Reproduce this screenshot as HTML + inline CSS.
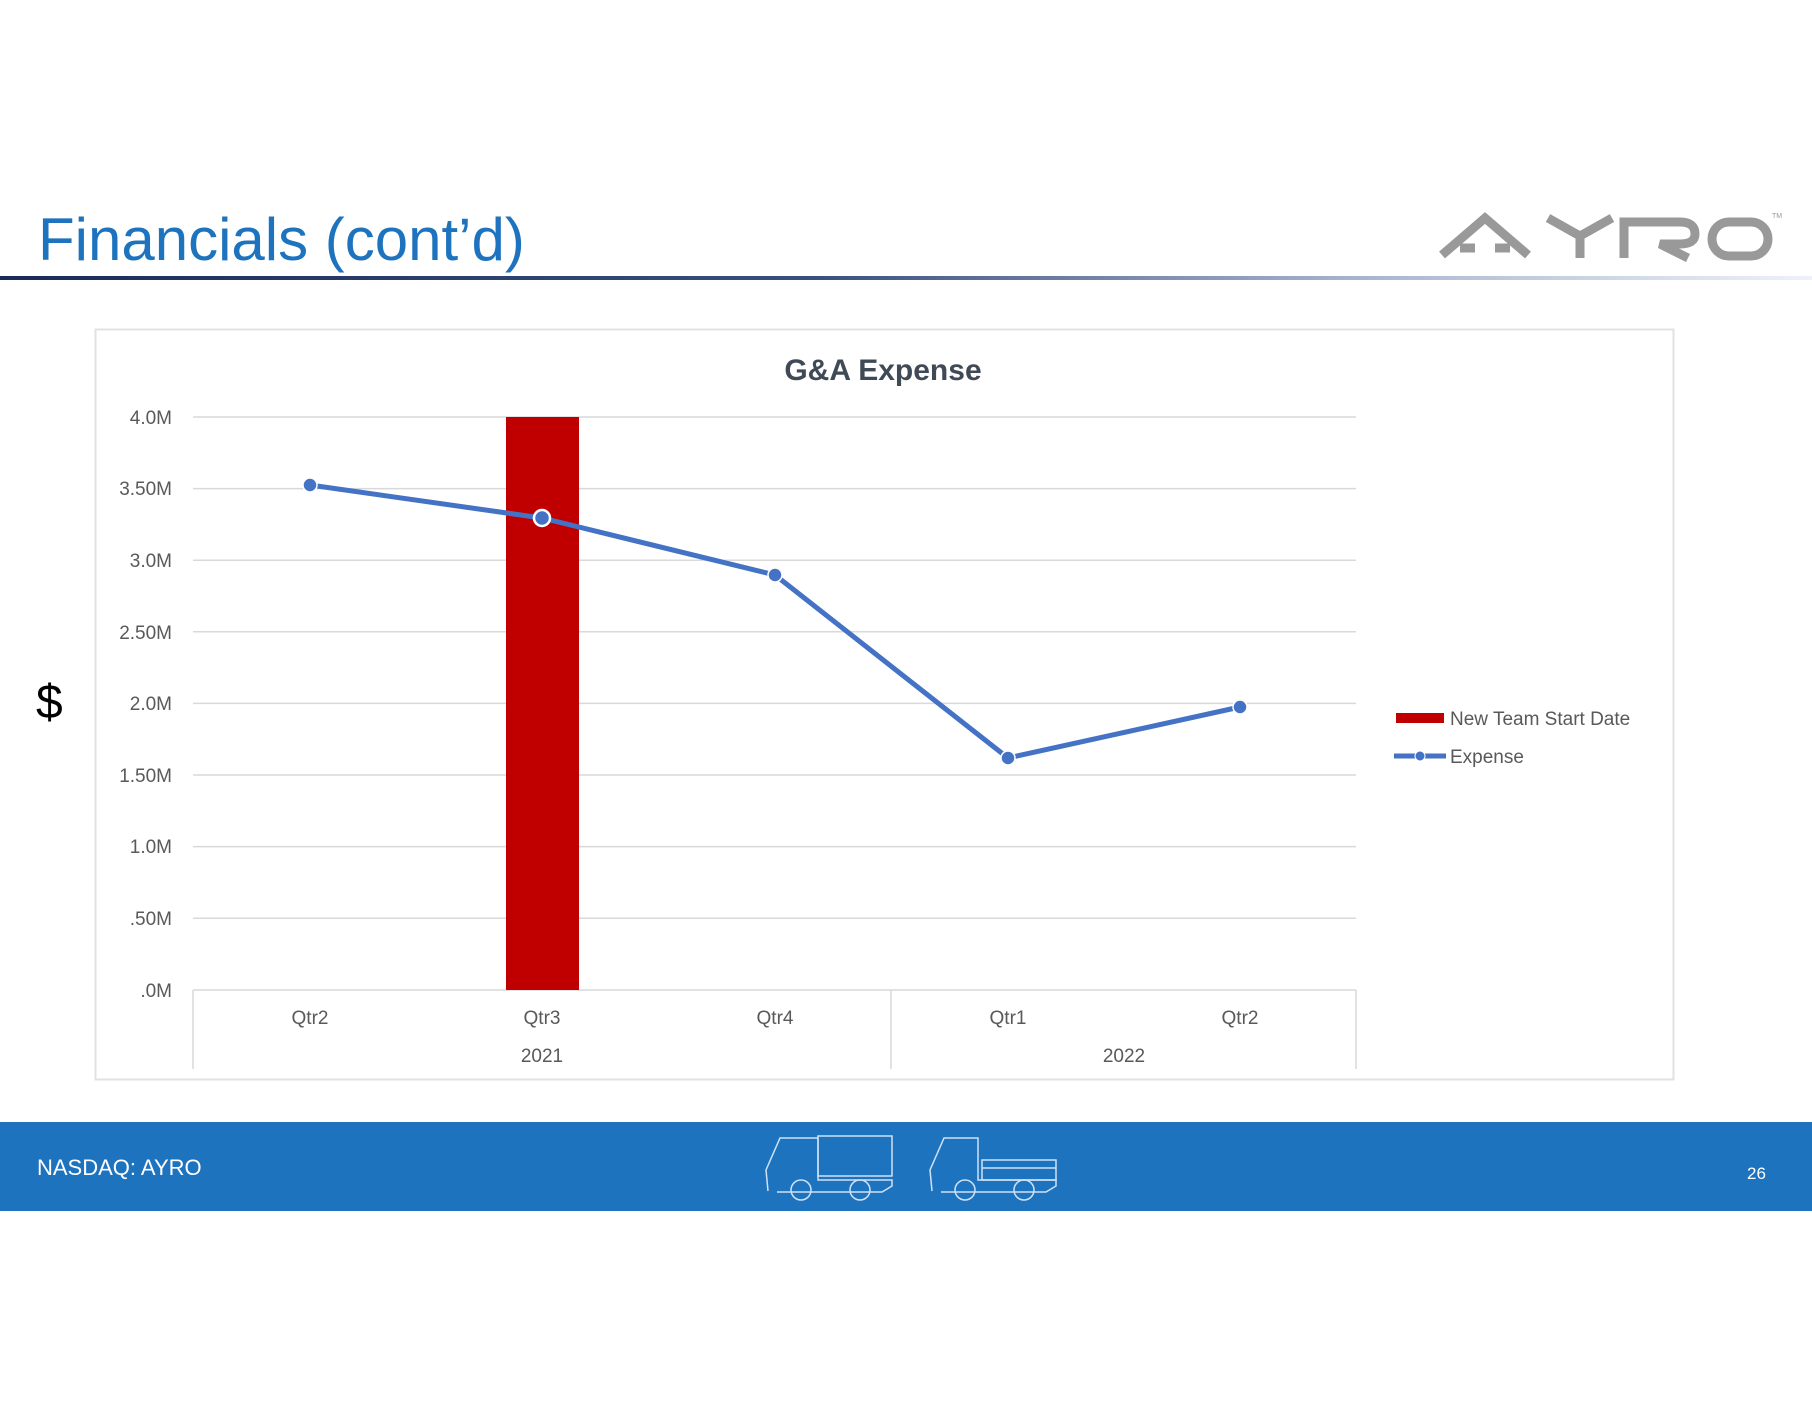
<!DOCTYPE html>
<html><head><meta charset="utf-8"><style>
html,body{margin:0;padding:0;background:#fff}
body{width:1812px;height:1401px;position:relative;overflow:hidden;font-family:"Liberation Sans",sans-serif}
</style></head><body>
<svg width="1812" height="1401" viewBox="0 0 1812 1401" style="position:absolute;left:0;top:0">
<defs>
<linearGradient id="g" x1="0" x2="1"><stop offset="0" stop-color="#1a2b57"/><stop offset="0.45" stop-color="#3a4f7e"/><stop offset="0.75" stop-color="#a8b4cf"/><stop offset="1" stop-color="#eef1f8"/></linearGradient>
</defs>
<text x="38" y="260" font-size="60" fill="#1e73be" font-family="Liberation Sans, sans-serif">Financials (cont’d)</text>
<rect x="0" y="276" width="1812" height="4" fill="url(#g)"/>
<!-- logo -->
<g fill="none" stroke="#999" stroke-width="9">
<path d="M1442 255 L1485 218 L1528 255 M1460 248 L1475 248 M1495 248 L1510 248"/>
<path d="M1548 218 L1580 236 L1612 218 M1580 236 L1580 258"/>
<path d="M1624 258 L1624 222 L1680 222 Q1695 222 1695 234 Q1695 244 1680 244 L1660 244 L1688 258"/>
<rect x="1712" y="222" width="56" height="34" rx="17"/>
</g>
<text x="1772" y="218" font-size="7" fill="#999">TM</text>
<!-- chart box -->
<rect x="95.5" y="329.5" width="1578" height="750" fill="#fff" stroke="#e2e2e2" stroke-width="2"/>
<text x="883" y="380" font-size="30" font-weight="bold" fill="#404a56" text-anchor="middle">G&amp;A Expense</text>
<g stroke="#d9d9d9" stroke-width="1.5">
<line x1="193" x2="1356" y1="417" y2="417"/><line x1="193" x2="1356" y1="488.6" y2="488.6"/>
<line x1="193" x2="1356" y1="560.2" y2="560.2"/><line x1="193" x2="1356" y1="631.8" y2="631.8"/>
<line x1="193" x2="1356" y1="703.4" y2="703.4"/><line x1="193" x2="1356" y1="775" y2="775"/>
<line x1="193" x2="1356" y1="846.6" y2="846.6"/><line x1="193" x2="1356" y1="918.2" y2="918.2"/>
<line x1="193" x2="1356" y1="990" y2="990"/>
<line x1="193" x2="193" y1="990" y2="1069"/><line x1="891" x2="891" y1="990" y2="1069"/><line x1="1356" x2="1356" y1="990" y2="1069"/>
</g>
<g font-size="19" fill="#595959" text-anchor="end">
<text x="172" y="424">4.0M</text><text x="172" y="495">3.50M</text><text x="172" y="567">3.0M</text>
<text x="172" y="639">2.50M</text><text x="172" y="710">2.0M</text><text x="172" y="782">1.50M</text>
<text x="172" y="853">1.0M</text><text x="172" y="925">.50M</text><text x="172" y="997">.0M</text>
</g>
<g font-size="19" fill="#595959" text-anchor="middle">
<text x="310" y="1024">Qtr2</text><text x="542" y="1024">Qtr3</text><text x="775" y="1024">Qtr4</text>
<text x="1008" y="1024">Qtr1</text><text x="1240" y="1024">Qtr2</text>
<text x="542" y="1062">2021</text><text x="1124" y="1062">2022</text>
</g>
<rect x="506" y="417" width="73" height="573" fill="#c00000"/>
<polyline points="310,485 542,518 775,575 1008,758 1240,707" fill="none" stroke="#4472c4" stroke-width="5" stroke-linejoin="round"/>
<g fill="#4472c4" stroke="#fff" stroke-width="1.5">
<circle cx="310" cy="485" r="7"/><circle cx="542" cy="518" r="8" stroke-width="2.5"/><circle cx="775" cy="575" r="7"/>
<circle cx="1008" cy="758" r="7"/><circle cx="1240" cy="707" r="7"/>
</g>
<rect x="1396" y="713" width="48" height="10" fill="#c00000"/>
<text x="1450" y="725" font-size="19" fill="#595959">New Team Start Date</text>
<line x1="1394" x2="1446" y1="756" y2="756" stroke="#4472c4" stroke-width="5"/>
<circle cx="1420" cy="756" r="5" fill="#4472c4" stroke="#fff" stroke-width="1"/>
<text x="1450" y="763" font-size="19" fill="#595959">Expense</text>
<text x="36" y="718" font-size="48" fill="#000">$</text>
<!-- footer -->
<rect x="0" y="1122" width="1812" height="89" fill="#1e73be"/>
<text x="37" y="1175" font-size="22" fill="#fff">NASDAQ: AYRO</text>
<text x="1747" y="1179" font-size="17" fill="#fff">26</text>
<g fill="none" stroke="#cfe2f5" stroke-width="1.5">
<path d="M768 1191 L766 1170 L780 1138 L818 1138 L818 1180 L892 1180 L892 1186 L882 1192 L777 1192"/>
<rect x="818" y="1136" width="74" height="40"/>
<circle cx="801" cy="1190" r="10"/><circle cx="860" cy="1190" r="10"/>
<path d="M932 1191 L930 1170 L944 1138 L978 1138 L978 1180 L1056 1180 L1056 1186 L1046 1192 L941 1192"/>
<rect x="982" y="1160" width="74" height="20"/><line x1="982" x2="1056" y1="1168" y2="1168"/>
<circle cx="965" cy="1190" r="10"/><circle cx="1024" cy="1190" r="10"/>
</g>
</svg>
</body></html>
